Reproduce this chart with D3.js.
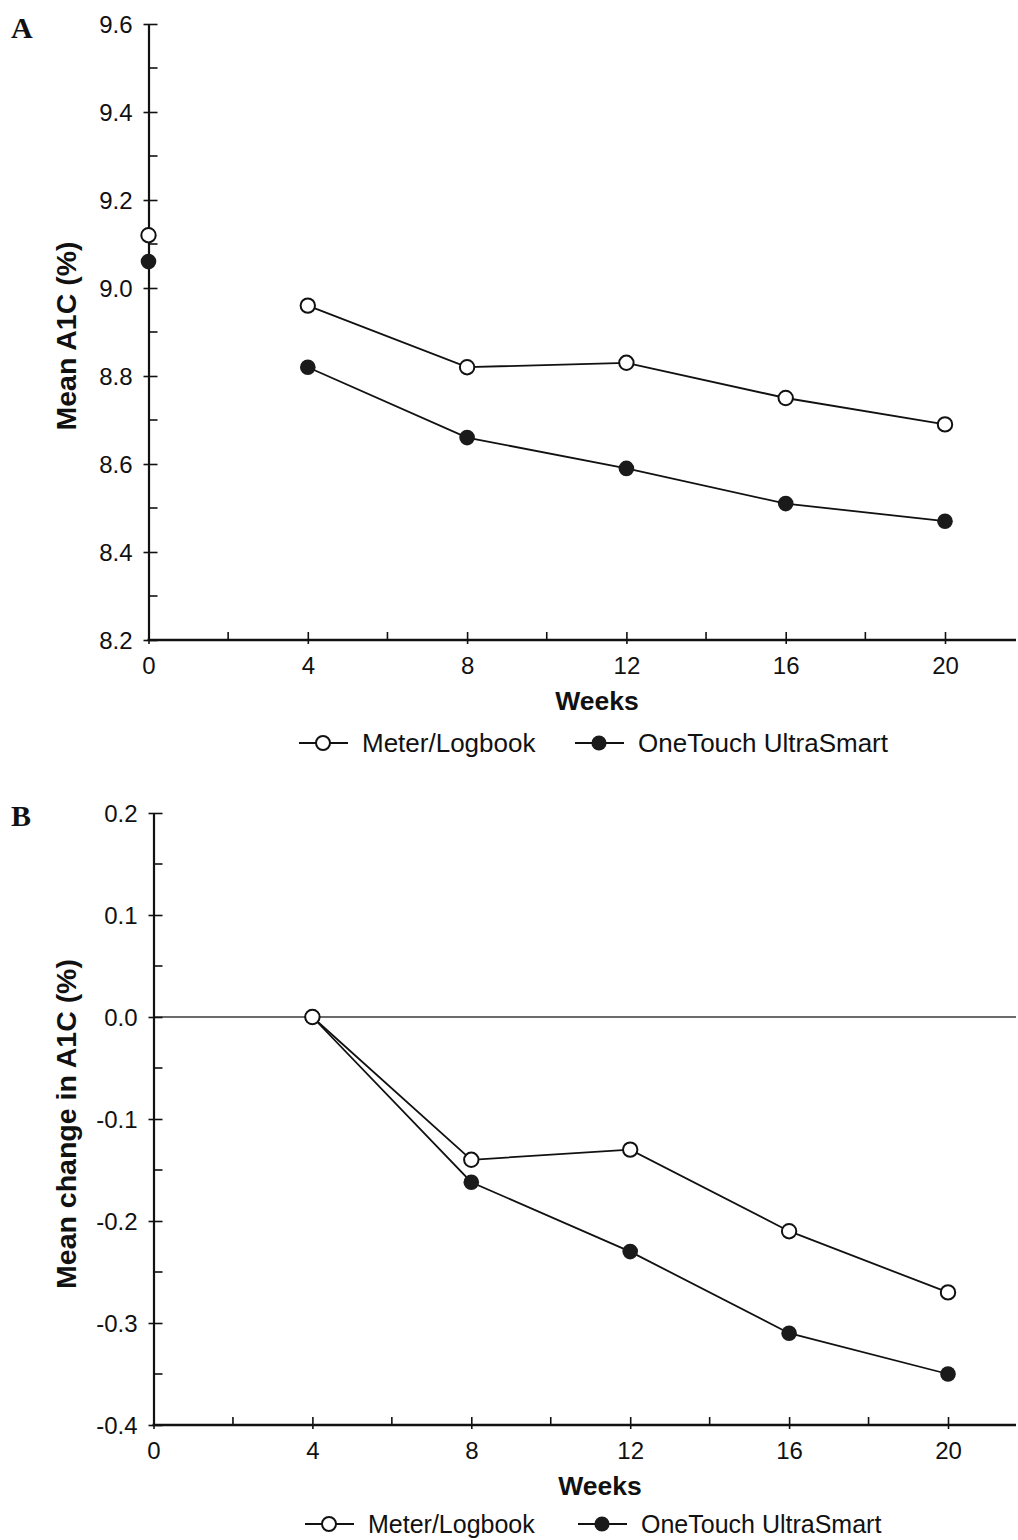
<!DOCTYPE html>
<html><head><meta charset="utf-8">
<script src="https://cdn.jsdelivr.net/npm/d3@7"></script>
<style>
body{margin:0;background:#fff;}
svg{display:block;font-family:"Liberation Sans",Arial,Helvetica,sans-serif;}
</style></head>
<body><svg id="chart" width="1018" height="1540"></svg>
<script>
// ---- data ----
const seriesNames = ["Meter/Logbook", "OneTouch UltraSmart"];
const weeksA = [0, 4, 8, 12, 16, 20];
const meterA = [9.12, 8.96, 8.82, 8.83, 8.75, 8.69];
const ultraA = [9.06, 8.82, 8.66, 8.59, 8.51, 8.47];
const weeksB = [4, 8, 12, 16, 20];
const meterB = [0.00, -0.14, -0.13, -0.21, -0.27];
const ultraB = [0.00, -0.162, -0.23, -0.31, -0.35];
const xTicks = [0, 4, 8, 12, 16, 20];
const yTicksA = [8.2, 8.4, 8.6, 8.8, 9.0, 9.2, 9.4, 9.6];
const yTicksB = [-0.4, -0.3, -0.2, -0.1, 0.0, 0.1, 0.2];

const svg = d3.select("#chart");
const FS = 24;
const fmt = d => d3.format(".1f")(d).replace("\u2212", "-");

function panel(o) {
  const g = svg.append("g");
  const x = d3.scaleLinear().domain([0, 20]).range([o.x0, o.x20]);
  const y = d3.scaleLinear().domain(o.yDomain).range([o.yBottom, o.yTop]);

  // panel letter
  g.append("text").attr("x", 11).attr("y", o.letterY)
    .attr("font-family", "'Liberation Serif','Times New Roman',serif")
    .attr("font-weight", "bold").attr("font-size", 30).attr("fill", "#111").text(o.letter);

  // zero line
  if (o.zeroLine) {
    g.append("line").attr("x1", x(0)).attr("x2", 1016)
      .attr("y1", y(0)).attr("y2", y(0))
      .attr("stroke", "#3a3a3a").attr("stroke-width", 1.6);
  }

  // y axis
  const ya = g.append("g").attr("transform", `translate(${x(0)},0)`)
    .call(d3.axisLeft(y).tickValues(o.yTicks).tickSize(5).tickSizeOuter(0)
      .tickFormat(fmt).tickPadding(6));
  ya.select(".domain").attr("stroke", "#111").attr("stroke-width", 2.2);
  ya.selectAll(".tick line").attr("x2", 9).attr("x1", -5).attr("stroke", "#111").attr("stroke-width", 1.6);
  ya.selectAll(".tick text").attr("x", -16).attr("dy", "0.36em")
    .attr("font-size", FS).attr("font-family", "'Liberation Sans',Arial,sans-serif").attr("fill", "#111");
  // minor y ticks
  const minorY = d3.range(o.yTicks.length - 1).map(i => (o.yTicks[i] + o.yTicks[i + 1]) / 2);
  g.selectAll(null).data(minorY).enter().append("line")
    .attr("x1", x(0)).attr("x2", x(0) + 9).attr("y1", d => y(d)).attr("y2", d => y(d))
    .attr("stroke", "#111").attr("stroke-width", 1.6);

  // x axis
  const xa = g.append("g").attr("transform", `translate(0,${o.yBottom})`)
    .call(d3.axisBottom(x).tickValues(xTicks).tickSize(4).tickSizeOuter(0).tickPadding(13));
  xa.select(".domain").remove();
  xa.selectAll(".tick line").attr("y1", -8).attr("y2", 4).attr("stroke", "#111").attr("stroke-width", 1.6);
  xa.selectAll(".tick text").attr("font-size", FS).attr("dy", "0.71em")
    .attr("font-family", "'Liberation Sans',Arial,sans-serif").attr("fill", "#111");
  g.append("line").attr("x1", x(0) - 1).attr("x2", 1016).attr("y1", o.yBottom).attr("y2", o.yBottom)
    .attr("stroke", "#111").attr("stroke-width", 2.4);
  const minorX = [2, 6, 10, 14, 18];
  g.selectAll(null).data(minorX).enter().append("line")
    .attr("x1", d => x(d)).attr("x2", d => x(d)).attr("y1", o.yBottom - 8).attr("y2", o.yBottom)
    .attr("stroke", "#111").attr("stroke-width", 1.6);

  // axis titles
  g.append("text").attr("x", o.weeksX).attr("y", o.yBottom + 70)
    .attr("text-anchor", "middle").attr("font-weight", "bold").attr("font-size", 26.5)
    .attr("fill", "#111").text("Weeks");
  g.append("text").attr("transform", `translate(${o.yTitleX},${o.yTitleY}) rotate(-90)`)
    .attr("text-anchor", "middle").attr("font-weight", "bold").attr("font-size", 28.5)
    .attr("fill", "#111").text(o.yTitle);

  // series lines (baseline point at week 0 is not connected)
  const line = d3.line().x(d => x(d[0])).y(d => y(d[1]));
  o.series.forEach(s => {
    const pts = s.weeks.map((w, i) => [w, s.values[i]]);
    g.append("path").datum(pts.filter(p => p[0] >= 4)).attr("d", line)
      .attr("fill", "none").attr("stroke", "#111").attr("stroke-width", 1.8);
  });
  // markers: filled first, open on top
  [1, 0].forEach(si => {
    const s = o.series[si];
    g.selectAll(null).data(s.weeks.map((w, i) => [w, s.values[i]])).enter().append("circle")
      .attr("cx", d => x(d[0])).attr("cy", d => y(d[1])).attr("r", si === 0 ? 7.2 : 7.8)
      .attr("fill", si === 0 ? "#fff" : "#1a1a1a")
      .attr("stroke", "#111").attr("stroke-width", si === 0 ? 2 : 0);
  });

  // legend
  const lg = g.append("g").attr("transform", `translate(0,${o.legendY})`);
  o.legendX.forEach((lx, si) => {
    lg.append("line").attr("x1", lx).attr("x2", lx + 49).attr("y1", 0).attr("y2", 0)
      .attr("stroke", "#111").attr("stroke-width", 2.2);
    lg.append("circle").attr("cx", lx + 24).attr("cy", 0).attr("r", si === 0 ? 7 : 7.6)
      .attr("fill", si === 0 ? "#fff" : "#1a1a1a").attr("stroke", "#111").attr("stroke-width", si === 0 ? 2 : 0);
    lg.append("text").attr("x", lx + 63).attr("y", 0).attr("dy", "0.36em")
      .attr("font-size", o.legendFS).attr("fill", "#111").text(seriesNames[si]);
  });
}

panel({
  letter: "A", letterY: 38,
  x0: 148.5, x20: 945, yTop: 24, yBottom: 640, yDomain: [8.2, 9.6], yTicks: yTicksA,
  yTitle: "Mean A1C (%)", yTitleX: 76, yTitleY: 336, weeksX: 597,
  series: [{weeks: weeksA, values: meterA}, {weeks: weeksA, values: ultraA}],
  legendY: 743, legendX: [299, 575], zeroLine: false, legendFS: 26
});
panel({
  letter: "B", letterY: 826,
  x0: 153.5, x20: 948, yTop: 813, yBottom: 1425, yDomain: [-0.4, 0.2], yTicks: yTicksB,
  yTitle: "Mean change in A1C (%)", yTitleX: 76, yTitleY: 1124, weeksX: 600,
  series: [{weeks: weeksB, values: meterB}, {weeks: weeksB, values: ultraB}],
  legendY: 1524, legendX: [305, 578], zeroLine: true, legendFS: 25
});
</script>
</body></html>
